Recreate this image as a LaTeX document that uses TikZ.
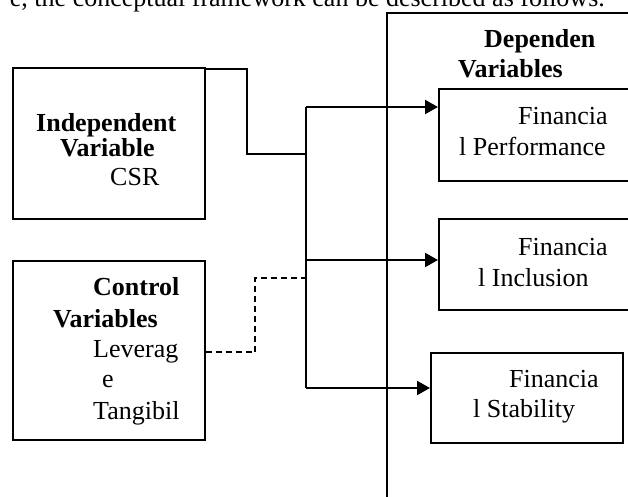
\documentclass[tikz,border=0pt]{standalone}
\usepackage{fontspec}
\setmainfont{Liberation Serif}
\usetikzlibrary{arrows.meta, calc}

\tikzset{
  box/.style={draw, line width=1.7pt, inner sep=0pt, anchor=north west},
  txt/.style={anchor=base west, inner sep=0pt, font=\fontsize{26}{31}\selectfont},
  hd/.style={txt, font=\fontsize{26}{31}\selectfont\bfseries},
  link/.style={line width=1.8pt},
  ctl/.style={link, dash pattern=on 6pt off 4pt},
  arr/.style={line width=2.2pt, -{Triangle[length=13pt,width=14pt]}},
}

\begin{document}
\begin{tikzpicture}[x=1pt, y=-1pt]
  \clip (0,0) rectangle (628,497);
  % Einleitungssatz (oben abgeschnitten)
  \node[txt, anchor=base east] (intro) at (605,7) {e, the conceptual framework can be described as follows.};
  % Kasten unabhaengige Variable
  \node[box, minimum width=192pt, minimum height=151pt] (indep) at (12,67) {};
  \node[hd] (indepA) at (36,132) {Independent};
  \node[hd] (indepB) at (60,157) {Variable};
  \node[txt] (indepC) at (110,185) {CSR};
  % Kasten Kontrollvariablen
  \node[box, minimum width=192pt, minimum height=179pt] (ctrl) at (12,260) {};
  \node[hd] (ctrlA) at (93,295) {Control};
  \node[hd] (ctrlB) at (53,327) {Variables};
  \node[txt] (ctrlC) at (93,357) {Leverag};
  \node[txt] (ctrlD) at (102,387) {e};
  \node[txt] (ctrlE) at (93,419) {Tangibil};
  % Rahmen abhaengige Variablen
  \node[box, minimum width=300pt, minimum height=520pt] (dep) at (386,12) {};
  \node[hd] (depA) at (484,48) {Dependen};
  \node[hd] (depB) at (458,78) {Variables};
  % Zielkaesten
  \node[box, minimum width=250pt, minimum height=92pt] (perf) at (438,88) {};
  \node[txt] (perfA) at (518,125) {Financia};
  \node[txt] (perfB) at (459,156) {l Performance};
  \node[box, minimum width=250pt, minimum height=91pt] (incl) at (438,218) {};
  \node[txt] (inclA) at (518,255) {Financia};
  \node[txt] (inclB) at (478,286) {l Inclusion};
  \node[box, minimum width=192pt, minimum height=90pt] (stab) at (430,352) {};
  \node[txt] (stabA) at (509,387) {Financia};
  \node[txt] (stabB) at (473,417) {l Stability};
  % Verteiler
  \coordinate (jA) at (306,107);
  \coordinate (jB) at (306,260);
  \coordinate (jC) at (306,388);
  \coordinate (kink) at (247,154);
  \coordinate (dkink) at (255,278);
  \draw[link] (jA) -- (jC);
  \draw[link] ([yshift=-2pt]indep.north east) -| (kink) -- (kink -| jA);
  \draw[ctl] ([yshift=-2pt]ctrl.east) -| (dkink) -- (dkink -| jA);
  \draw[arr] (jA) -- (jA -| perf.west);
  \draw[arr] (jB) -- (jB -| incl.west);
  \draw[arr] (jC) -- (jC -| stab.west);
\end{tikzpicture}
\end{document}
